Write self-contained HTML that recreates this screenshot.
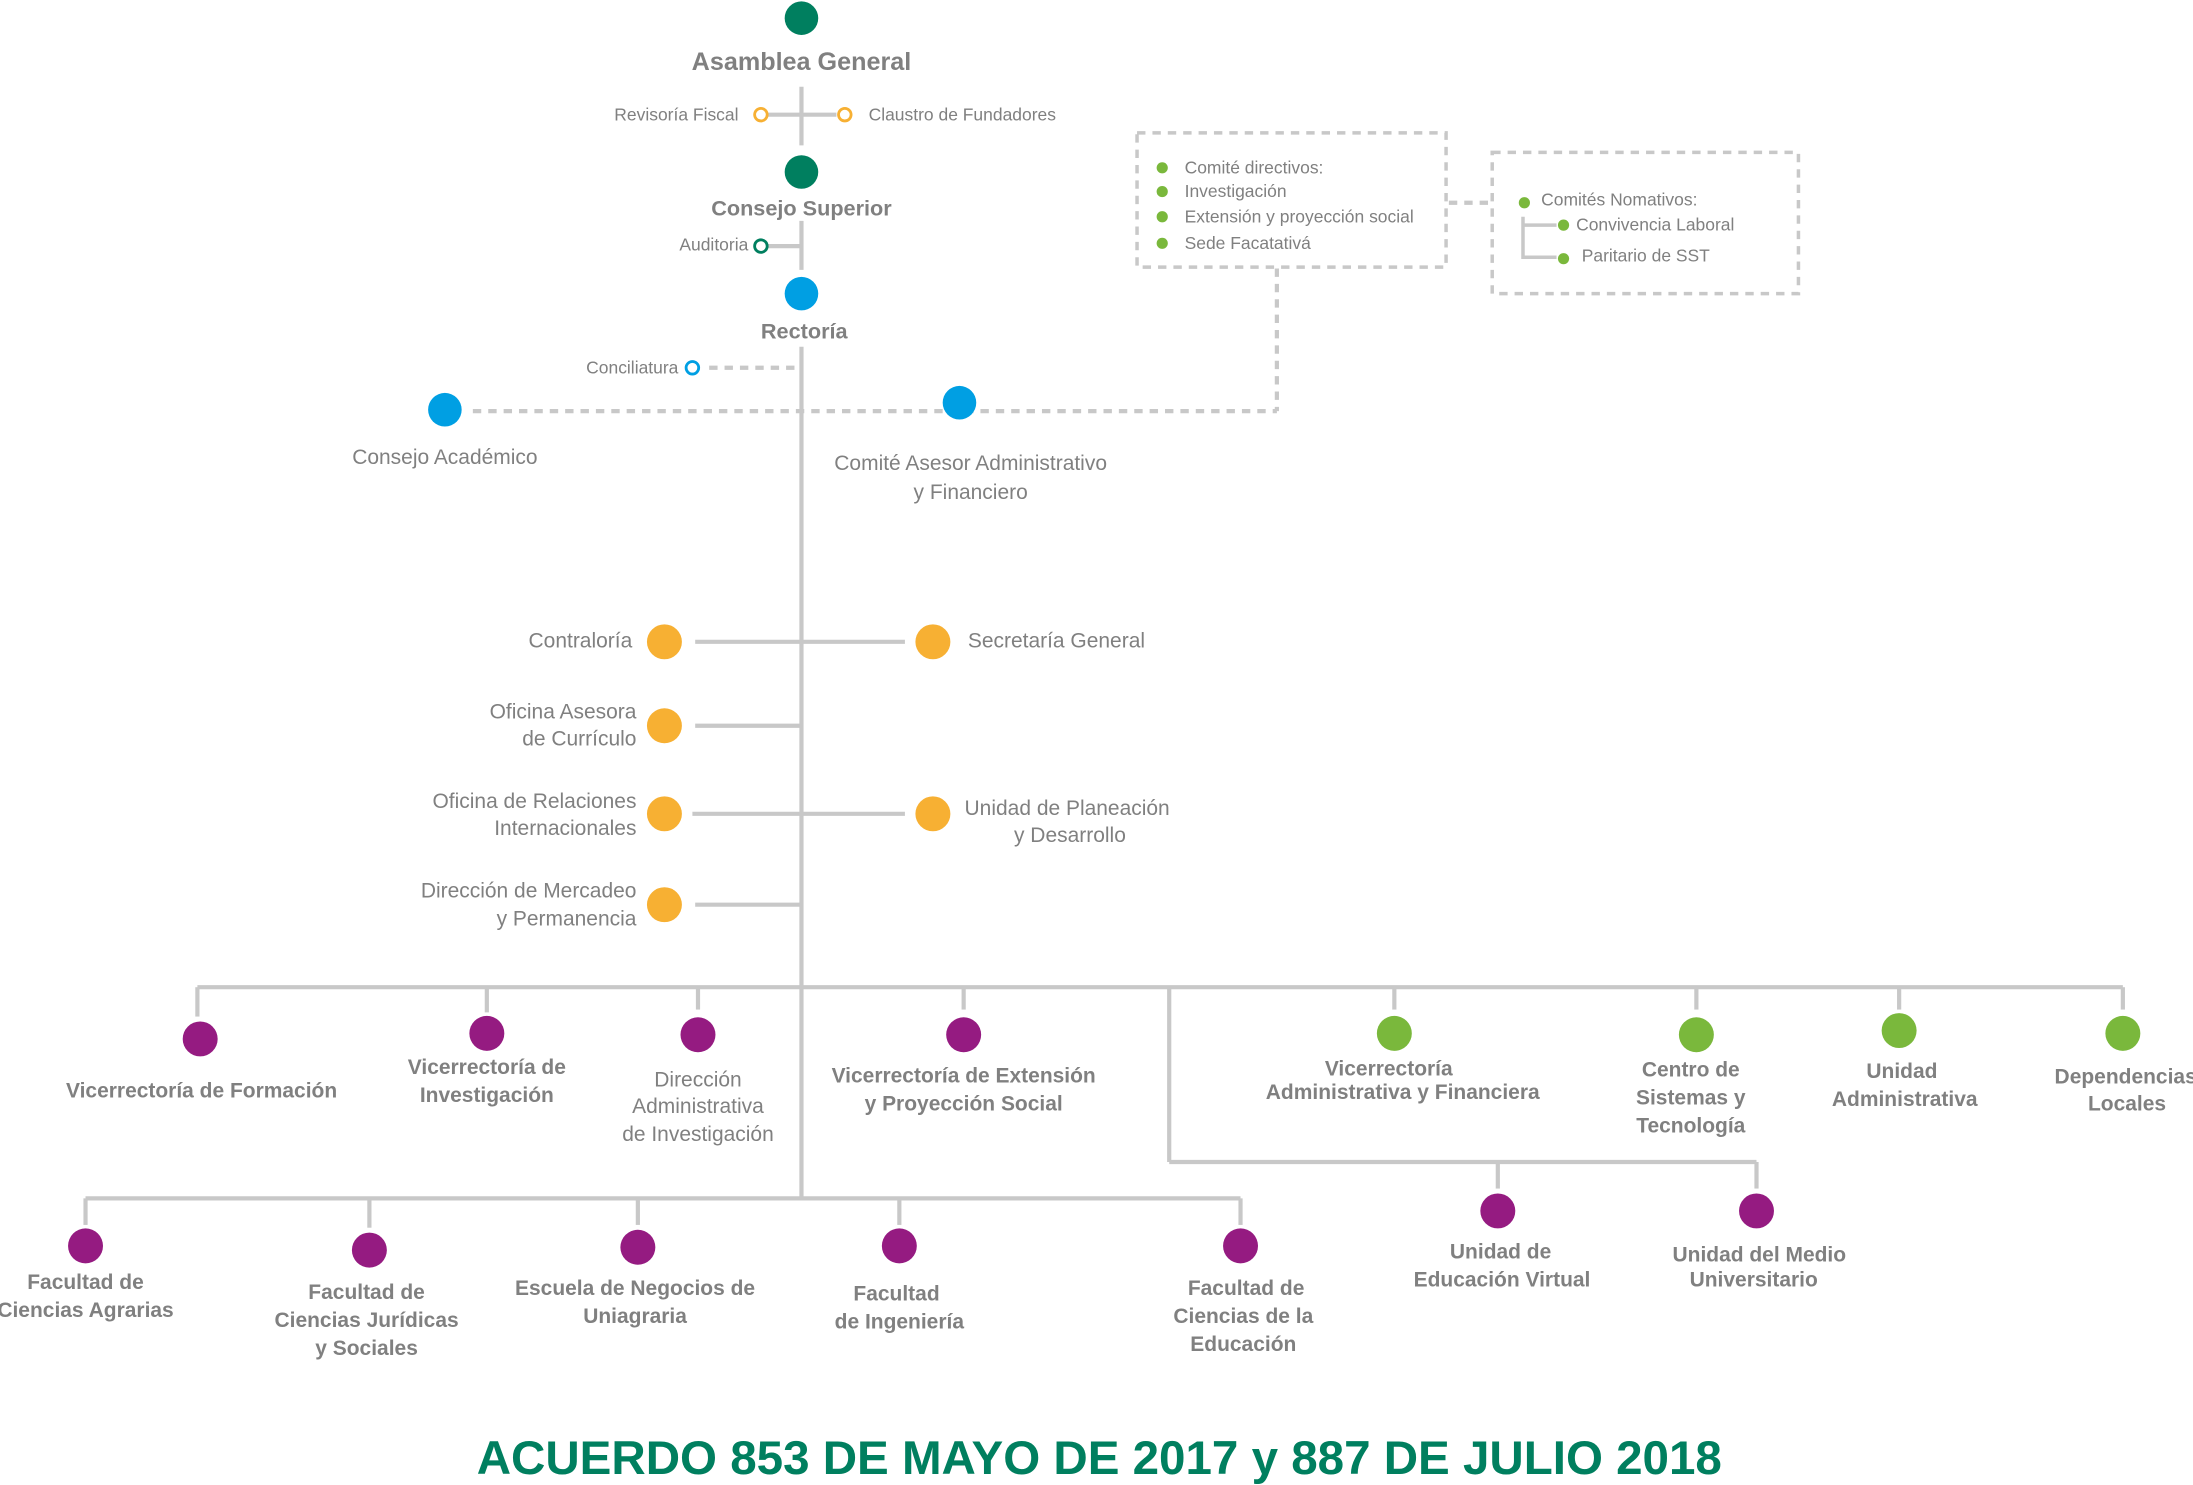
<!DOCTYPE html>
<html><head><meta charset="utf-8"><style>
html,body{margin:0;padding:0;background:#fff;}
svg{display:block;}
text{font-family:"Liberation Sans",sans-serif;fill:#808080;}
.b{font-weight:bold;}
</style></head><body>
<svg width="2193" height="1485" viewBox="0 0 1568 1062" xmlns="http://www.w3.org/2000/svg">
<g stroke="#c8c8c8" stroke-width="3" fill="none">
<line x1="573" y1="62" x2="573" y2="104"/>
<line x1="548" y1="82" x2="598" y2="82"/>
<line x1="573" y1="158" x2="573" y2="193"/>
<line x1="548" y1="176" x2="573" y2="176"/>
<line x1="573" y1="248" x2="573" y2="857"/>
<line x1="497" y1="459" x2="647" y2="459"/>
<line x1="497" y1="519" x2="573" y2="519"/>
<line x1="495" y1="582" x2="647" y2="582"/>
<line x1="497" y1="647" x2="573" y2="647"/>
<line x1="141" y1="706" x2="1518" y2="706"/>
<line x1="141" y1="706" x2="141" y2="727"/><line x1="348" y1="706" x2="348" y2="724"/><line x1="499" y1="706" x2="499" y2="722"/><line x1="689" y1="706" x2="689" y2="722"/>
<line x1="997" y1="706" x2="997" y2="722"/><line x1="1213" y1="706" x2="1213" y2="722"/><line x1="1358" y1="706" x2="1358" y2="722"/><line x1="1518" y1="706" x2="1518" y2="722"/>
<line x1="836" y1="706" x2="836" y2="831"/><line x1="836" y1="831" x2="1256" y2="831"/>
<line x1="1071" y1="831" x2="1071" y2="850"/><line x1="1256" y1="831" x2="1256" y2="850"/>
<line x1="61" y1="857" x2="887" y2="857"/>
<line x1="61" y1="857" x2="61" y2="876"/><line x1="264" y1="857" x2="264" y2="878"/><line x1="456" y1="857" x2="456" y2="876"/><line x1="643" y1="857" x2="643" y2="876"/><line x1="887" y1="857" x2="887" y2="876"/>
<polyline points="1089,155 1089,184 1113,184" stroke-width="2.5"/><line x1="1089" y1="161" x2="1113" y2="161" stroke-width="2.5"/>
</g>
<g stroke="#c8c8c8" stroke-width="3" fill="none" stroke-dasharray="6,5">
<line x1="507" y1="263" x2="573" y2="263"/>
<line x1="338" y1="294" x2="913" y2="294"/>
<line x1="913" y1="192" x2="913" y2="294"/>
<line x1="1036" y1="145" x2="1067" y2="145"/>
<rect x="813" y="95" width="221" height="96" stroke-width="2.5"/>
<rect x="1067" y="109" width="219" height="101" stroke-width="2.5"/>
</g>
<g>
<circle cx="573" cy="13" r="12" fill="#007f5f"/>
<circle cx="573" cy="123" r="12" fill="#007f5f"/>
<circle cx="573" cy="210" r="12" fill="#009fe3"/>
<circle cx="318" cy="293" r="12" fill="#009fe3"/>
<circle cx="686" cy="288" r="12" fill="#009fe3"/>
<circle cx="544" cy="82" r="4.5" fill="#fff" stroke="#f7b033" stroke-width="2"/>
<circle cx="604" cy="82" r="4.5" fill="#fff" stroke="#f7b033" stroke-width="2"/>
<circle cx="544" cy="176" r="4.5" fill="#fff" stroke="#007f5f" stroke-width="2"/>
<circle cx="495" cy="263" r="4.5" fill="#fff" stroke="#009fe3" stroke-width="2"/>
<g fill="#f7b033"><circle cx="475" cy="459" r="12.5"/><circle cx="667" cy="459" r="12.5"/><circle cx="475" cy="519" r="12.5"/><circle cx="475" cy="582" r="12.5"/><circle cx="667" cy="582" r="12.5"/><circle cx="475" cy="647" r="12.5"/></g>
<g fill="#951b81"><circle cx="143" cy="743" r="12.5"/><circle cx="348" cy="739" r="12.5"/><circle cx="499" cy="740" r="12.5"/><circle cx="689" cy="740" r="12.5"/><circle cx="61" cy="891" r="12.5"/><circle cx="264" cy="894" r="12.5"/><circle cx="456" cy="892" r="12.5"/><circle cx="643" cy="891" r="12.5"/><circle cx="887" cy="891" r="12.5"/><circle cx="1071" cy="866" r="12.5"/><circle cx="1256" cy="866" r="12.5"/></g>
<g fill="#7ab83c"><circle cx="997" cy="739" r="12.5"/><circle cx="1213" cy="740" r="12.5"/><circle cx="1358" cy="737" r="12.5"/><circle cx="1518" cy="739" r="12.5"/>
<circle cx="831" cy="120" r="4"/><circle cx="831" cy="137" r="4"/><circle cx="831" cy="155" r="4"/><circle cx="831" cy="174" r="4"/><circle cx="1090" cy="145" r="4"/><circle cx="1118" cy="161" r="4"/><circle cx="1118" cy="185" r="4"/></g>
</g>
<g font-size="15">
<text class="b" x="573" y="50" text-anchor="middle" font-size="18">Asamblea General</text>
<text class="b" x="573" y="154" text-anchor="middle" font-size="15.5">Consejo Superior</text>
<text class="b" x="575" y="242" text-anchor="middle" font-size="15.5">Rectoría</text>
<text x="528" y="86" text-anchor="end" font-size="12.5">Revisoría Fiscal</text>
<text x="621" y="86" font-size="12.5">Claustro de Fundadores</text>
<text x="535" y="179" text-anchor="end" font-size="12.5">Auditoria</text>
<text x="485" y="267" text-anchor="end" font-size="12.5">Conciliatura</text>
<text x="318" y="332" text-anchor="middle">Consejo Académico</text>
<text x="694" y="336" text-anchor="middle">Comité Asesor Administrativo</text>
<text x="694" y="357" text-anchor="middle">y Financiero</text>
<g font-size="12.5"><text x="847" y="124">Comité directivos:</text><text x="847" y="141">Investigación</text><text x="847" y="159">Extensión y proyección social</text><text x="847" y="178">Sede Facatativá</text>
<text x="1102" y="147">Comités Nomativos:</text><text x="1127" y="165">Convivencia Laboral</text><text x="1131" y="187">Paritario de SST</text></g>
<text x="452" y="463" text-anchor="end">Contraloría</text>
<text x="692" y="463">Secretaría General</text>
<text x="455" y="514" text-anchor="end">Oficina Asesora</text><text x="455" y="533" text-anchor="end">de Currículo</text>
<text x="455" y="578" text-anchor="end">Oficina de Relaciones</text><text x="455" y="597" text-anchor="end">Internacionales</text>
<text x="763" y="583" text-anchor="middle">Unidad de Planeación</text><text x="765" y="602" text-anchor="middle">y Desarrollo</text>
<text x="455" y="642" text-anchor="end">Dirección de Mercadeo</text><text x="455" y="662" text-anchor="end">y Permanencia</text>
<g class="b" text-anchor="middle">
<text x="144" y="785">Vicerrectoría de Formación</text>
<text x="348" y="768">Vicerrectoría de</text><text x="348" y="788">Investigación</text>
<text x="499" y="777" font-weight="normal">Dirección</text><text x="499" y="796" font-weight="normal">Administrativa</text><text x="499" y="816" font-weight="normal">de Investigación</text>
<text x="689" y="774">Vicerrectoría de Extensión</text><text x="689" y="794">y Proyección Social</text>
<text x="993" y="769">Vicerrectoría</text><text x="1003" y="786">Administrativa y Financiera</text>
<text x="1209" y="770">Centro de</text><text x="1209" y="790">Sistemas y</text><text x="1209" y="810">Tecnología</text>
<text x="1360" y="771">Unidad</text><text x="1362" y="791">Administrativa</text>
<text x="1520" y="775">Dependencias</text><text x="1521" y="794">Locales</text>
<text x="61" y="922">Facultad de</text><text x="61" y="942">Ciencias Agrarias</text>
<text x="262" y="929">Facultad de</text><text x="262" y="949">Ciencias Jurídicas</text><text x="262" y="969">y Sociales</text>
<text x="454" y="926">Escuela de Negocios de</text><text x="454" y="946">Uniagraria</text>
<text x="641" y="930">Facultad</text><text x="643" y="950">de Ingeniería</text>
<text x="891" y="926">Facultad de</text><text x="889" y="946">Ciencias de la</text><text x="889" y="966">Educación</text>
<text x="1073" y="900">Unidad de</text><text x="1074" y="920">Educación Virtual</text>
<text x="1258" y="902">Unidad del Medio</text><text x="1254" y="920">Universitario</text>
</g>
</g>
<text class="b" x="786" y="1054" text-anchor="middle" font-size="34" style="fill:#007f5f">ACUERDO 853  DE  MAYO DE 2017 y 887 DE JULIO 2018</text>
</svg>
</body></html>
